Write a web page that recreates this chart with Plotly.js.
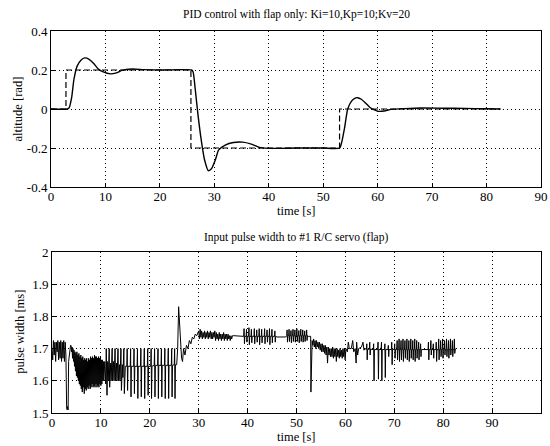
<!DOCTYPE html>
<html>
<head>
<meta charset="utf-8">
<script src="https://cdn.plot.ly/plotly-3.0.1.min.js"></script>
<style>html,body{margin:0;padding:0;background:#fff;}#chart{width:550px;height:446px;}</style>
</head>
<body>
<div id="chart"></div>
<script>
// ---- Top panel: altitude response (solid) and reference (dashed) ----
const refTime  = [0, 2.75, 2.75, 25.7, 25.7, 53.0, 53.0, 82.6];
const refValue = [0, 0, 0.2, 0.2, -0.2, -0.2, 0, 0];

const respTime  = [0, 2.9, 3.3, 3.8, 4.2, 4.8, 5.5, 6.2, 7.0, 7.8, 8.7, 9.6, 10.9, 12.0, 13.0, 14.9, 17, 20, 25.8,
                   26.1, 26.5, 27.0, 27.6, 28.2, 28.9, 29.5, 30.2, 30.8, 32.0, 33.5, 35.2, 36.8, 38.5, 41, 45, 50, 53.0,
                   53.4, 53.9, 54.5, 55.2, 55.8, 56.3, 57.0, 57.8, 58.6, 59.4, 60.2, 61.2, 62.5, 65, 68, 72, 76, 80, 82.5];
const respValue = [0, 0, 0.005, 0.06, 0.15, 0.22, 0.25, 0.262, 0.255, 0.235, 0.205, 0.19, 0.18, 0.185, 0.198, 0.205, 0.202, 0.2, 0.2,
                   0.19, 0.1, -0.03, -0.16, -0.26, -0.316, -0.305, -0.26, -0.21, -0.185, -0.172, -0.17, -0.18, -0.198, -0.202, -0.2, -0.2, -0.2,
                   -0.17, -0.1, 0, 0.04, 0.055, 0.058, 0.05, 0.03, 0.008, -0.005, -0.012, -0.01, -0.002, 0.002, 0.005, 0.004, 0.003, 0.001, 0];

// ---- Bottom panel: servo pulse width [ms], read as [time, value] samples ----
const pulseStart = [[0,1.70],[0.15,1.665],[0.3,1.725],[0.45,1.68],[0.6,1.72],[0.75,1.66],[0.9,1.72],[1.05,1.69],[1.2,1.725],
  [1.35,1.665],[1.5,1.72],[1.65,1.67],[1.8,1.725],[1.95,1.66],[2.1,1.72],[2.25,1.67],[2.4,1.725],[2.55,1.66],[2.7,1.72],
  [2.85,1.68],[3.0,1.515],[3.1,1.51],[3.2,1.52],[3.3,1.51],[3.4,1.66],[3.6,1.70],[3.8,1.71]];
const pulseDense1 = [[3.9,1.71],[4.0,1.69],[4.1,1.705],[4.2,1.67],[4.3,1.70],[4.4,1.66],[4.5,1.695],[4.6,1.645],[4.7,1.69],
  [4.8,1.63],[4.9,1.685],[5.0,1.615],[5.1,1.69],[5.2,1.61],[5.3,1.68],[5.4,1.60],[5.5,1.685],[5.6,1.59],[5.7,1.675],
  [5.8,1.585],[5.9,1.68],[6.0,1.575],[6.1,1.67],[6.2,1.565],[6.3,1.675],[6.4,1.58],[6.5,1.665],[6.6,1.56],[6.7,1.67],
  [6.8,1.575],[6.9,1.665],[7.0,1.57],[7.1,1.67],[7.2,1.58],[7.3,1.66],[7.4,1.575],[7.5,1.67],[7.6,1.585],[7.7,1.665],
  [7.8,1.575],[7.9,1.675],[8.0,1.58],[8.1,1.67],[8.2,1.59],[8.3,1.675],[8.4,1.58],[8.5,1.67],[8.6,1.585],[8.7,1.68],
  [8.8,1.58],[8.9,1.675],[9.0,1.59],[9.1,1.675],[9.2,1.58],[9.3,1.67],[9.4,1.585],[9.5,1.675],[9.6,1.58],[9.7,1.67],
  [9.8,1.59],[9.9,1.675],[10.0,1.585],[10.1,1.665],[10.2,1.59],[10.3,1.665],[10.4,1.60]];
const pulseBand = [[10.5,1.66],[10.6,1.60],[10.8,1.66],[11.0,1.59],[11.1,1.70],[11.25,1.555],[11.4,1.66],[11.5,1.60],
  [11.7,1.70],[11.8,1.58],[12.0,1.655],[12.1,1.60],[12.3,1.70],[12.4,1.60],[12.6,1.66],[12.7,1.60],[12.9,1.70],[13.0,1.60],
  [13.2,1.655],[13.3,1.60],[13.5,1.70],[13.6,1.60],[13.8,1.65],[13.9,1.60],[14.1,1.70],[14.2,1.57],[14.4,1.65],[14.5,1.61],
  [14.7,1.70],[14.8,1.56],[15.0,1.645]];
// spikes: [time, baseline, high, low]
const spikesLow = [[15.3,1.645,1.70,1.57],[16.0,1.645,1.70,1.55],[16.7,1.645,1.70,1.56],[17.4,1.645,1.70,1.545],
  [18.1,1.645,1.70,1.55],[18.8,1.645,1.70,1.545],[19.5,1.645,1.70,1.555],[20.2,1.645,1.70,1.545],[20.9,1.648,1.70,1.55],
  [21.6,1.648,1.70,1.545],[22.3,1.648,1.70,1.55],[23.0,1.648,1.70,1.545],[23.7,1.648,1.70,1.545],[24.4,1.648,1.70,1.55],
  [25.0,1.65,1.70,1.545]];
const pulseJump = [[25.5,1.65],[25.55,1.70],[25.7,1.70],[25.9,1.83],[26.0,1.80],[26.2,1.72],[26.5,1.67],[26.7,1.66],
  [26.9,1.70],[27.2,1.68],[27.5,1.71],[27.8,1.70],[28.1,1.725],[28.4,1.715],[28.7,1.735],[29.0,1.73],[29.3,1.745],
  [29.6,1.74],[29.9,1.755]];
const pulseDense2 = [[30.0,1.755],[30.15,1.73],[30.3,1.76],[30.45,1.735],[30.6,1.755],[30.75,1.73],[30.9,1.75],[31.05,1.735],
  [31.2,1.755],[31.35,1.73],[31.5,1.75],[31.65,1.735],[31.8,1.755],[31.95,1.73],[32.1,1.75],[32.25,1.735],[32.4,1.755],
  [32.55,1.73],[32.7,1.75],[32.85,1.73],[33.0,1.75],[33.15,1.735],[33.3,1.755],[33.45,1.725],[33.6,1.75],[33.75,1.73],
  [33.9,1.745],[34.05,1.725],[34.2,1.75],[34.35,1.73],[34.5,1.745],[34.65,1.725],[34.8,1.745],[34.95,1.73],[35.1,1.75],
  [35.25,1.725],[35.4,1.745],[35.55,1.73],[35.7,1.745],[35.85,1.725],[36.0,1.745],[36.15,1.73],[36.3,1.74],[36.45,1.725],
  [36.6,1.74],[36.75,1.73],[36.9,1.74],[37.2,1.74],[38.5,1.738],[39.0,1.738]];
const spikesMid1 = [[39.2,1.738,1.762,1.715],[39.7,1.738,1.76,1.72],[40.2,1.738,1.765,1.712],[40.7,1.738,1.76,1.718],
  [41.3,1.738,1.762,1.715],[41.8,1.738,1.758,1.72],[42.3,1.738,1.762,1.712],[42.8,1.738,1.76,1.718],[43.4,1.738,1.762,1.715],
  [43.9,1.738,1.758,1.72],[44.4,1.738,1.762,1.712],[44.9,1.738,1.76,1.718],[45.5,1.738,1.755,1.72]];
const pulseFlat = [[46.0,1.736],[47.8,1.736]];
const spikesMid2 = [[48.0,1.74,1.758,1.72],[48.4,1.74,1.76,1.722],[48.8,1.74,1.756,1.718],[49.2,1.74,1.76,1.722],
  [49.6,1.74,1.758,1.72],[50.0,1.74,1.762,1.722],[50.4,1.74,1.756,1.718],[50.8,1.74,1.76,1.722],[51.2,1.74,1.758,1.72],
  [51.6,1.74,1.755,1.722],[52.0,1.74,1.758,1.725]];
const pulseDrop = [[52.4,1.738],[52.9,1.738],[52.95,1.565],[53.05,1.70],[53.2,1.725],[53.35,1.71],[53.5,1.73],[53.65,1.705],
  [53.8,1.725],[53.95,1.70],[54.1,1.725],[54.25,1.705],[54.4,1.72],[54.55,1.70],[54.7,1.72],[54.85,1.695],[55.0,1.715],
  [55.15,1.69],[55.3,1.715],[55.45,1.69],[55.6,1.71],[55.75,1.685],[55.9,1.71],[56.05,1.68],[56.2,1.705],[56.35,1.655],
  [56.5,1.705],[56.65,1.68],[56.8,1.70],[56.95,1.675],[57.1,1.70],[57.25,1.675],[57.4,1.705],[57.55,1.67],[57.7,1.70],
  [57.85,1.675],[58.0,1.70],[58.15,1.66],[58.3,1.70],[58.45,1.675],[58.6,1.695],[58.75,1.67],[58.9,1.70],[59.05,1.675],
  [59.2,1.695],[59.35,1.67],[59.5,1.70],[59.65,1.675],[59.8,1.70],[59.95,1.665],[60.1,1.70]];
const pulseSettle = [[60.4,1.69],[60.6,1.72],[60.8,1.70],[61.2,1.70],[61.5,1.725],[61.7,1.69],[62.0,1.70],[62.2,1.655],
  [62.3,1.72],[62.5,1.68],[62.7,1.70],[63.3,1.705],[63.6,1.72],[63.8,1.695],[64.0,1.70]];
const spikesEnd = [[64.3,1.698,1.715,1.665],[64.9,1.698,1.72,1.68],[65.7,1.697,1.715,1.60],[66.6,1.697,1.72,1.605],
  [67.3,1.697,1.72,1.60],[68.0,1.697,1.715,1.61],[68.7,1.697,1.71,1.675],[69.4,1.697,1.72,1.65],[70.0,1.697,1.715,1.67],
  [70.5,1.697,1.725,1.665],[70.9,1.697,1.73,1.66],[71.3,1.697,1.725,1.665],[71.7,1.697,1.73,1.66],[72.1,1.697,1.725,1.67],
  [72.5,1.697,1.73,1.665],[72.9,1.697,1.725,1.66],[73.3,1.697,1.73,1.67],[73.7,1.697,1.725,1.665],[74.1,1.697,1.73,1.66],
  [74.5,1.697,1.725,1.67],[74.9,1.697,1.72,1.665],[75.3,1.697,1.715,1.675],[76.9,1.697,1.72,1.665],[77.4,1.697,1.725,1.68],
  [77.9,1.697,1.715,1.67],[78.5,1.697,1.72,1.66],[79.0,1.697,1.73,1.665],[79.4,1.697,1.725,1.675],[79.8,1.697,1.73,1.67],
  [80.2,1.697,1.725,1.68],[80.6,1.697,1.73,1.675],[81.0,1.697,1.725,1.67],[81.4,1.697,1.73,1.68],[81.8,1.697,1.725,1.675],
  [82.2,1.697,1.73,1.685]];
const pulseEnd = [[82.5,1.70]];

const xTicksTop = [0,10,20,30,40,50,60,70,80,90];
const xTicksBottom = [0,10,20,30,40,50,60,70,80,90,100];
const yTicksTop = [-0.4,-0.2,0,0.2,0.4];
const yTickTextTop = ['-0.4','-0.2','0','0.2','0.4'];
const yTicksBottom = [1.5,1.6,1.7,1.8,1.9,2];
const yTickTextBottom = ['1.5','1.6','1.7','1.8','1.9','2'];

// expand spike descriptors into line vertices
function expandSpikes(list){
  const out = [];
  list.forEach(s => { out.push([s[0], s[1]], [s[0]+0.08, s[2]], [s[0]+0.16, s[3]], [s[0]+0.24, s[1]]); });
  return out;
}
const pulseAll = [].concat(pulseStart, pulseDense1, pulseBand, expandSpikes(spikesLow), pulseJump, pulseDense2,
  expandSpikes(spikesMid1), pulseFlat, expandSpikes(spikesMid2), pulseDrop, pulseSettle, expandSpikes(spikesEnd), pulseEnd);
const pulseTime = pulseAll.map(p => p[0]);
const pulseValue = pulseAll.map(p => p[1]);

const FONT = 'Liberation Serif, Times New Roman, serif';
const data = [
  {x: refTime, y: refValue, mode: 'lines', line: {color: '#000', width: 1.2, dash: '6px,3px'}, xaxis: 'x', yaxis: 'y', hoverinfo: 'skip'},
  {x: respTime, y: respValue, mode: 'lines', line: {color: '#000', width: 1.4, shape: 'spline', smoothing: 0.6}, xaxis: 'x', yaxis: 'y', hoverinfo: 'skip'},
  {x: pulseTime, y: pulseValue, mode: 'lines', line: {color: '#000', width: 1}, xaxis: 'x2', yaxis: 'y2', hoverinfo: 'skip'}
];

const axisCommon = {
  showgrid: true, gridcolor: '#000', griddash: '1px,3px', gridwidth: 1,
  showline: true, mirror: true, linecolor: '#000', linewidth: 1,
  ticks: 'inside', ticklen: 4, tickcolor: '#000', zeroline: false,
  tickfont: {family: FONT, size: 13, color: '#000'}, fixedrange: true
};

const layout = {
  width: 550, height: 446,
  margin: {l: 51, r: 9, t: 31, b: 33},
  paper_bgcolor: '#fff', plot_bgcolor: '#fff',
  showlegend: false,
  xaxis: Object.assign({}, axisCommon, {domain: [0, 1], anchor: 'y', range: [0, 90], tickvals: xTicksTop, ticktext: xTicksTop.map(String), ticklabelstandoff: -3}),
  yaxis: Object.assign({}, axisCommon, {domain: [0.5916, 1], anchor: 'x', range: [-0.4, 0.4], tickvals: yTicksTop, ticktext: yTickTextTop}),
  xaxis2: Object.assign({}, axisCommon, {domain: [0.002, 1], anchor: 'y2', range: [0, 100], tickvals: xTicksBottom, ticktext: xTicksBottom.map(String), ticklabelstandoff: -3}),
  yaxis2: Object.assign({}, axisCommon, {domain: [0, 0.4215], anchor: 'x2', range: [1.5, 2], tickvals: yTicksBottom, ticktext: yTickTextBottom}),
  annotations: [
    {text: 'PID control with flap only: Ki=10,Kp=10;Kv=20', xref: 'paper', yref: 'paper', x: 0.5, y: 1.042, xanchor: 'center', yanchor: 'middle', showarrow: false, font: {family: FONT, size: 11.5, color: '#000'}},
    {text: 'time [s]', xref: 'paper', yref: 'paper', x: 0.5, y: 0.530, xanchor: 'center', yanchor: 'middle', showarrow: false, font: {family: FONT, size: 12.5, color: '#000'}},
    {text: 'altitude [rad]', xref: 'paper', yref: 'paper', x: -0.068, y: 0.796, xanchor: 'center', yanchor: 'middle', textangle: -90, showarrow: false, font: {family: FONT, size: 12.5, color: '#000'}},
    {text: 'Input pulse width to #1 R/C servo (flap)', xref: 'paper', yref: 'paper', x: 0.5, y: 0.459, xanchor: 'center', yanchor: 'middle', showarrow: false, font: {family: FONT, size: 11.5, color: '#000'}},
    {text: 'time [s]', xref: 'paper', yref: 'paper', x: 0.5, y: -0.062, xanchor: 'center', yanchor: 'middle', showarrow: false, font: {family: FONT, size: 12.5, color: '#000'}},
    {text: 'pulse width [ms]', xref: 'paper', yref: 'paper', x: -0.064, y: 0.212, xanchor: 'center', yanchor: 'middle', textangle: -90, showarrow: false, font: {family: FONT, size: 12.5, color: '#000'}}
  ]
};

Plotly.newPlot('chart', data, layout, {staticPlot: true, displayModeBar: false});
</script>
</body>
</html>
